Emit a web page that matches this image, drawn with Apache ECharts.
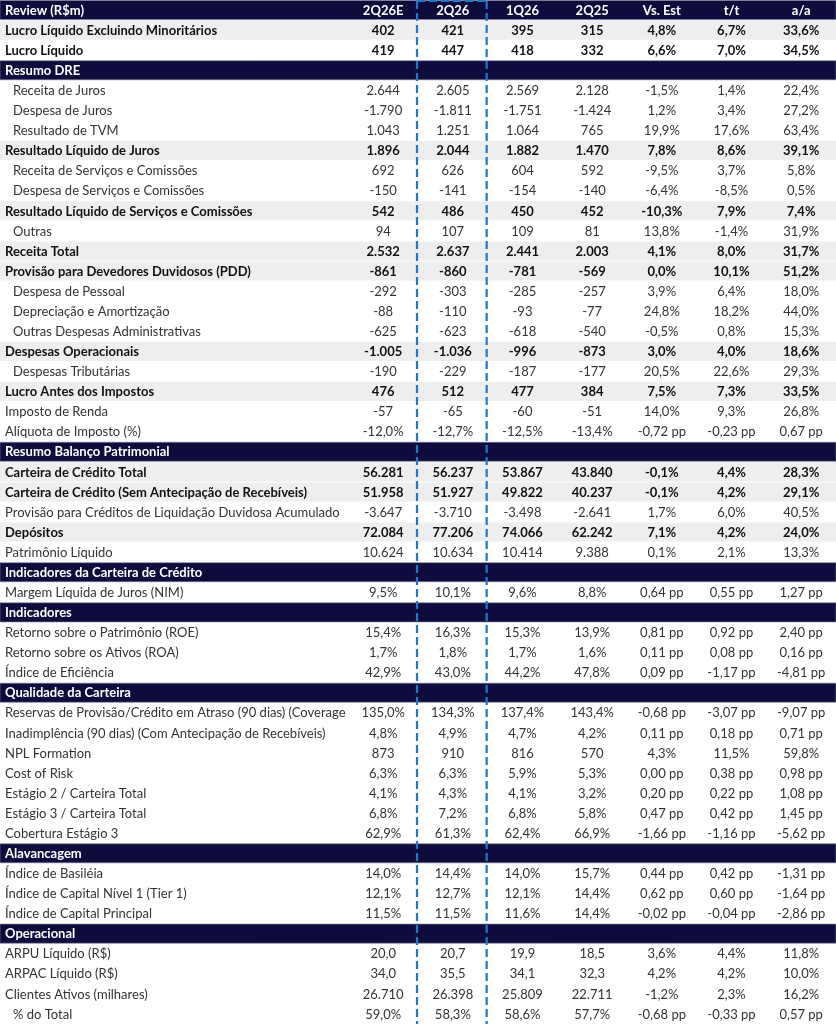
<!DOCTYPE html>
<html>
<head>
<meta charset="utf-8">
<script src="https://cdn.jsdelivr.net/npm/echarts@6/dist/echarts.min.js"></script>
<style>
html,body{margin:0;padding:0;background:#fff;}
#chart{width:836px;height:1024px;}
</style>
</head>
<body>
<div id="chart"></div>
<script>
const tableTitle = 'Review (R$m)';
const colHeaders = ['2Q26E', '2Q26', '1Q26', '2Q25', 'Vs. Est', 't/t', 'a/a'];
const highlightColumn = '2Q26';

const rowLabels = [
  'Review (R$m)',
  'Lucro Líquido Excluindo Minoritários',
  'Lucro Líquido',
  'Resumo DRE',
  'Receita de Juros',
  'Despesa de Juros',
  'Resultado de TVM',
  'Resultado Líquido de Juros',
  'Receita de Serviços e Comissões',
  'Despesa de Serviços e Comissões',
  'Resultado Líquido de Serviços e Comissões',
  'Outras',
  'Receita Total',
  'Provisão para Devedores Duvidosos (PDD)',
  'Despesa de Pessoal',
  'Depreciação e Amortização',
  'Outras Despesas Administrativas',
  'Despesas Operacionais',
  'Despesas Tributárias',
  'Lucro Antes dos Impostos',
  'Imposto de Renda',
  'Alíquota de Imposto (%)',
  'Resumo Balanço Patrimonial',
  'Carteira de Crédito Total',
  'Carteira de Crédito (Sem Antecipação de Recebíveis)',
  'Provisão para Créditos de Liquidação Duvidosa Acumulado',
  'Depósitos',
  'Patrimônio Líquido',
  'Indicadores da Carteira de Crédito',
  'Margem Líquida de Juros (NIM)',
  'Indicadores',
  'Retorno sobre o Patrimônio (ROE)',
  'Retorno sobre os Ativos (ROA)',
  'Índice de Eficiência',
  'Qualidade da Carteira',
  'Reservas de Provisão/Crédito em Atraso (90 dias) (Coverage',
  'Inadimplência (90 dias) (Com Antecipação de Recebíveis)',
  'NPL Formation',
  'Cost of Risk',
  'Estágio 2 / Carteira Total',
  'Estágio 3 / Carteira Total',
  'Cobertura Estágio 3',
  'Alavancagem',
  'Índice de Basiléia',
  'Índice de Capital Nível 1 (Tier 1)',
  'Índice de Capital Principal',
  'Operacional',
  'ARPU Líquido (R$)',
  'ARPAC Líquido (R$)',
  'Clientes Ativos (milhares)',
  '% do Total'
];

const rowKinds = [
  'head', 'bold', 'boldw',
  'sec', 'ind', 'ind', 'ind', 'bold', 'ind', 'ind', 'bold', 'ind', 'bold', 'bold', 'ind', 'ind', 'ind', 'bold', 'ind', 'bold', 'norm', 'norm',
  'sec', 'bold', 'bold', 'norm', 'bold', 'norm',
  'sec', 'norm',
  'sec', 'norm', 'norm', 'norm',
  'sec', 'norm', 'norm', 'norm', 'norm', 'norm', 'norm', 'norm',
  'sec', 'norm', 'norm', 'norm',
  'sec', 'norm', 'norm', 'norm', 'ind'
];

const col2Q26E = [null,'402','419', null,'2.644','-1.790','1.043','1.896','692','-150','542','94','2.532','-861','-292','-88','-625','-1.005','-190','476','-57','-12,0%', null,'56.281','51.958','-3.647','72.084','10.624', null,'9,5%', null,'15,4%','1,7%','42,9%', null,'135,0%','4,8%','873','6,3%','4,1%','6,8%','62,9%', null,'14,0%','12,1%','11,5%', null,'20,0','34,0','26.710','59,0%'];
const col2Q26 = [null,'421','447', null,'2.605','-1.811','1.251','2.044','626','-141','486','107','2.637','-860','-303','-110','-623','-1.036','-229','512','-65','-12,7%', null,'56.237','51.927','-3.710','77.206','10.634', null,'10,1%', null,'16,3%','1,8%','43,0%', null,'134,3%','4,9%','910','6,3%','4,3%','7,2%','61,3%', null,'14,4%','12,7%','11,5%', null,'20,7','35,5','26.398','58,3%'];
const col1Q26 = [null,'395','418', null,'2.569','-1.751','1.064','1.882','604','-154','450','109','2.441','-781','-285','-93','-618','-996','-187','477','-60','-12,5%', null,'53.867','49.822','-3.498','74.066','10.414', null,'9,6%', null,'15,3%','1,7%','44,2%', null,'137,4%','4,7%','816','5,9%','4,1%','6,8%','62,4%', null,'14,0%','12,1%','11,6%', null,'19,9','34,1','25.809','58,6%'];
const col2Q25 = [null,'315','332', null,'2.128','-1.424','765','1.470','592','-140','452','81','2.003','-569','-257','-77','-540','-873','-177','384','-51','-13,4%', null,'43.840','40.237','-2.641','62.242','9.388', null,'8,8%', null,'13,9%','1,6%','47,8%', null,'143,4%','4,2%','570','5,3%','3,2%','5,8%','66,9%', null,'15,7%','14,4%','14,4%', null,'18,5','32,3','22.711','57,7%'];
const colVsEst = [null,'4,8%','6,6%', null,'-1,5%','1,2%','19,9%','7,8%','-9,5%','-6,4%','-10,3%','13,8%','4,1%','0,0%','3,9%','24,8%','-0,5%','3,0%','20,5%','7,5%','14,0%','-0,72 pp', null,'-0,1%','-0,1%','1,7%','7,1%','0,1%', null,'0,64 pp', null,'0,81 pp','0,11 pp','0,09 pp', null,'-0,68 pp','0,11 pp','4,3%','0,00 pp','0,20 pp','0,47 pp','-1,66 pp', null,'0,44 pp','0,62 pp','-0,02 pp', null,'3,6%','4,2%','-1,2%','-0,68 pp'];
const colTT = [null,'6,7%','7,0%', null,'1,4%','3,4%','17,6%','8,6%','3,7%','-8,5%','7,9%','-1,4%','8,0%','10,1%','6,4%','18,2%','0,8%','4,0%','22,6%','7,3%','9,3%','-0,23 pp', null,'4,4%','4,2%','6,0%','4,2%','2,1%', null,'0,55 pp', null,'0,92 pp','0,08 pp','-1,17 pp', null,'-3,07 pp','0,18 pp','11,5%','0,38 pp','0,22 pp','0,42 pp','-1,16 pp', null,'0,42 pp','0,60 pp','-0,04 pp', null,'4,4%','4,2%','2,3%','-0,33 pp'];
const colAA = [null,'33,6%','34,5%', null,'22,4%','27,2%','63,4%','39,1%','5,8%','0,5%','7,4%','31,9%','31,7%','51,2%','18,0%','44,0%','15,3%','18,6%','29,3%','33,5%','26,8%','0,67 pp', null,'28,3%','29,1%','40,5%','24,0%','13,3%', null,'1,27 pp', null,'2,40 pp','0,16 pp','-4,81 pp', null,'-9,07 pp','0,71 pp','59,8%','0,98 pp','1,08 pp','1,45 pp','-5,62 pp', null,'-1,31 pp','-1,64 pp','-2,86 pp', null,'11,8%','10,0%','16,2%','0,57 pp'];

const valueColumns = [col2Q26E, col2Q26, col1Q26, col2Q25, colVsEst, colTT, colAA];

// layout constants (axis units): label column spans 5 slots, each value column 1 slot
const LABEL_SLOTS = 5;
const TOTAL_SLOTS = LABEL_SLOTS + colHeaders.length;

const NAVY = '#0d0c3c';
const SHADE = '#eeeeee';
const FONT = 'Lato, "Open Sans", sans-serif';
const FONT_SIZE = 13;

const chart = echarts.init(document.getElementById('chart'), null, {renderer: 'canvas'});

function renderRow(params, api) {
  const i = api.value(1);
  const kind = rowKinds[i];
  const left = api.coord([0, i]);
  const right = api.coord([TOTAL_SLOTS, i]);
  const h = api.size([0, 1])[1];
  const slotW = api.size([1, 0])[0];
  const top = left[1] - h / 2;
  const children = [];
  let fillBg = null;
  if (kind === 'head' || kind === 'sec') fillBg = NAVY;
  else if (kind === 'bold') fillBg = SHADE;
  if (fillBg) {
    children.push({
      type: 'rect',
      shape: {x: left[0], y: top + 0.5, width: right[0] - left[0], height: h - 1},
      style: {fill: fillBg, stroke: (fillBg === NAVY ? '#7c7c98' : null), lineWidth: 0.6}
    });
  }
  const isBold = kind === 'head' || kind === 'sec' || kind === 'bold' || kind === 'boldw';
  const textColor = (kind === 'head' || kind === 'sec') ? '#ffffff' : (isBold ? '#111111' : '#333333');
  const weight = isBold ? 'bold' : 'normal';
  const indent = kind === 'ind' ? 13 : 5;
  children.push({
    type: 'text',
    style: {
      text: rowLabels[i],
      x: left[0] + indent,
      y: left[1] + 0.5,
      align: 'left',
      verticalAlign: 'middle',
      fill: textColor,
      font: weight + ' ' + FONT_SIZE + 'px ' + FONT,
      width: LABEL_SLOTS * slotW - indent,
      overflow: 'truncate',
      ellipsis: ''
    }
  });
  for (let c = 0; c < valueColumns.length; c++) {
    let txt = kind === 'head' ? colHeaders[c] : valueColumns[c][i];
    if (txt == null) continue;
    const p = api.coord([LABEL_SLOTS + c + 0.5, i]);
    children.push({
      type: 'text',
      style: {
        text: txt,
        x: p[0],
        y: p[1] + 0.5,
        align: 'center',
        verticalAlign: 'middle',
        fill: textColor,
        font: weight + ' ' + FONT_SIZE + 'px ' + FONT
      }
    });
  }
  return {type: 'group', children: children};
}

function renderHighlight(params, api) {
  const colIdx = api.value(0);
  const lastRow = rowLabels.length - 1;
  const x0 = api.coord([colIdx, 0])[0] - 1;
  const x1 = api.coord([colIdx + 1, 0])[0] - 1;
  const h = api.size([0, 1])[1];
  const yTop = api.coord([colIdx, 0])[1] - h / 2 + 1;
  const yBot = api.coord([colIdx, lastRow])[1] + h / 2 + 4;
  const st = {stroke: '#1f78c8', lineWidth: 2.2, lineDash: [8, 4], fill: null};
  return {
    type: 'group',
    children: [
      {type: 'line', shape: {x1: x0, y1: yTop, x2: x1, y2: yTop}, style: st},
      {type: 'line', shape: {x1: x0, y1: yTop, x2: x0, y2: yBot}, style: st},
      {type: 'line', shape: {x1: x1, y1: yTop, x2: x1, y2: yBot}, style: st}
    ]
  };
}

const highlightIdx = LABEL_SLOTS + colHeaders.indexOf(highlightColumn);

chart.setOption({
  backgroundColor: '#ffffff',
  animation: false,
  grid: {left: 0, right: 0, top: 0, bottom: 0},
  xAxis: {type: 'value', min: 0, max: TOTAL_SLOTS, show: false},
  yAxis: {type: 'category', data: rowLabels.map((_, i) => i), inverse: true, show: false},
  series: [
    {
      type: 'custom',
      renderItem: renderRow,
      data: rowLabels.map((_, i) => [0, i]),
      encode: {x: 0, y: 1},
      clip: false,
      silent: true,
      z: 1
    },
    {
      type: 'custom',
      renderItem: renderHighlight,
      data: [[highlightIdx, 0]],
      encode: {x: 0, y: 1},
      clip: false,
      silent: true,
      z: 5
    }
  ]
});
</script>
</body>
</html>
